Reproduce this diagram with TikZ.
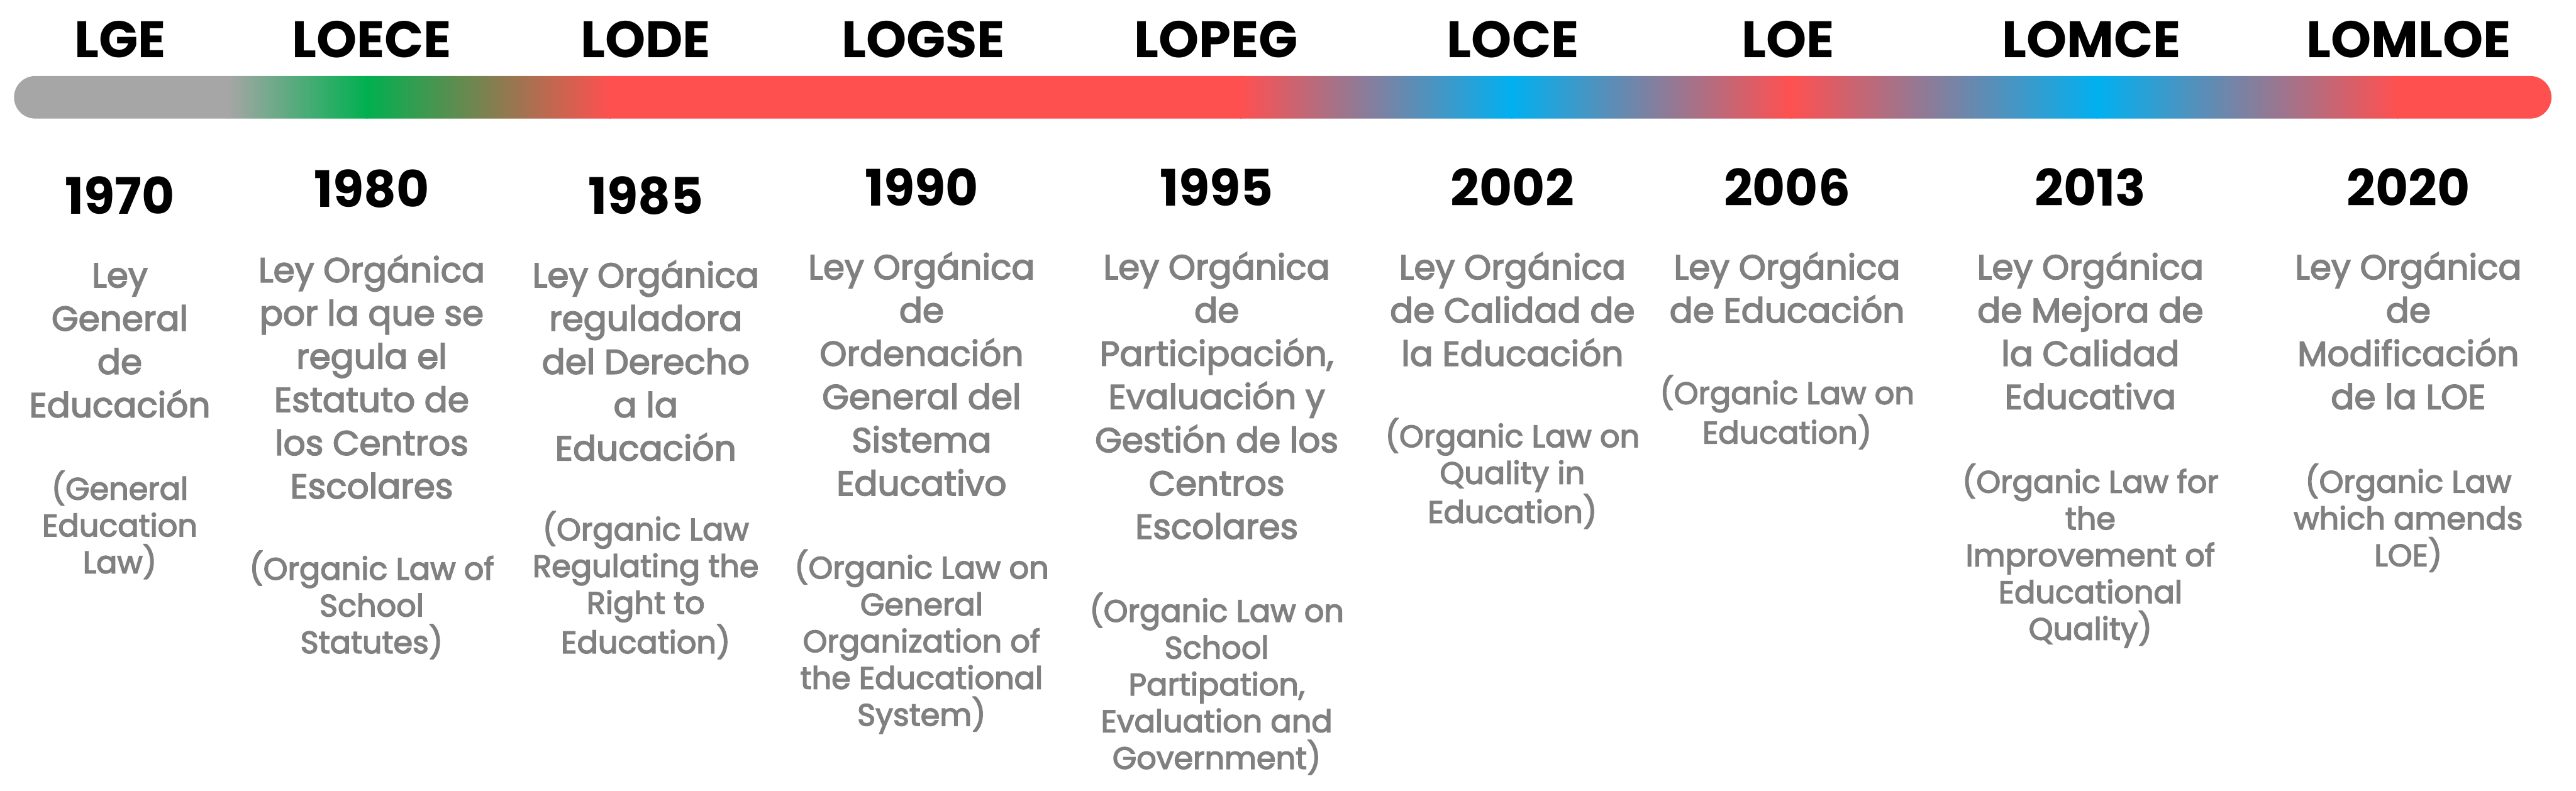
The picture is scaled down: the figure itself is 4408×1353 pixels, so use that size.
\documentclass[tikz,border=0pt]{standalone}
\usepackage{fontspec}
\setmainfont{Poppins}
\newfontfamily\descfont{Poppins}[FakeBold=3]
\definecolor{barg}{HTML}{A6A6A6}
\definecolor{barn}{HTML}{00B050}
\definecolor{barr}{HTML}{FF5050}
\definecolor{barb}{HTML}{00B0F0}
\definecolor{txtgray}{HTML}{808080}
\begin{document}
\begin{tikzpicture}[x=0.01cm,y=-0.01cm,
  lawtitle/.style={font=\fontsize{25}{30}\selectfont\bfseries, anchor=base, inner sep=0},
  yearlbl/.style={font=\fontsize{24.5}{29}\selectfont\bfseries, anchor=base, inner sep=0},
  esdesc/.style={font=\descfont\fontsize{16.8}{21.05}\selectfont, text=txtgray, align=center, anchor=base, inner sep=0},
  endesc/.style={font=\descfont\fontsize{15.1}{17.9}\selectfont, text=txtgray, align=center, anchor=base, inner sep=0}]
\useasboundingbox (0,0) rectangle (4408,1353);
% gradient bar
\begin{scope}
\path[clip, rounded corners=0.365cm] (24,130) rectangle (4366,203);
\fill[barg] (0,100) rectangle (392,230);
\shade[left color=barg, right color=barn] (390,100) rectangle (629,230);
\shade[left color=barn, right color=barr] (627,100) rectangle (1045,230);
\fill[barr] (1043,100) rectangle (2124,230);
\shade[left color=barr, right color=barb] (2122,100) rectangle (2588,230);
\shade[left color=barb, right color=barr] (2586,100) rectangle (3065,230);
\shade[left color=barr, right color=barb] (3063,100) rectangle (3590,230);
\shade[left color=barb, right color=barr] (3588,100) rectangle (4104,230);
\fill[barr] (4102,100) rectangle (4408,230);
\end{scope}
% titles
\node[lawtitle] (t1) at (206,98) {LGE};
\node[lawtitle] (t2) at (636,98) {LOECE};
\node[lawtitle] (t3) at (1105,98) {LODE};
\node[lawtitle] (t4) at (1580,98) {LOGSE};
\node[lawtitle] (t5) at (2081,98) {LOPEG};
\node[lawtitle] (t6) at (2589,98) {LOCE};
\node[lawtitle] (t7) at (3060,98) {LOE};
\node[lawtitle] (t8) at (3579,98) {LOMCE};
\node[lawtitle] (t9) at (4122,98) {LOMLOE};
% years
\node[yearlbl] (y1) at (205,366) {1970};
\node[yearlbl] (y2) at (636,355) {1980};
\node[yearlbl] (y3) at (1105,366) {1985};
\node[yearlbl] (y4) at (1577,352) {1990};
\node[yearlbl] (y5) at (2082,352) {1995};
\node[yearlbl] (y6) at (2588,352) {2002};
\node[yearlbl] (y7) at (3058,352) {2006};
\node[yearlbl] (y8) at (3577,352) {2013};
\node[yearlbl] (y9) at (4121,352) {2020};
% Spanish names (anchored at the baseline of the last line)
\node[esdesc] (s1) at (205,714) {Ley\\General\\de\\Educación};
\node[esdesc] (s2) at (636,853) {Ley Orgánica\\por la que se\\regula el\\Estatuto de\\los Centros\\Escolares};
\node[esdesc] (s3) at (1105,788) {Ley Orgánica\\reguladora\\del Derecho\\a la\\Educación};
\node[esdesc] (s4) at (1577,848) {Ley Orgánica\\de\\Ordenación\\General del\\Sistema\\Educativo};
\node[esdesc] (s5) at (2082,922) {Ley Orgánica\\de\\Participación,\\Evaluación y\\Gestión de los\\Centros\\Escolares};
\node[esdesc] (s6) at (2588,626) {Ley Orgánica\\de Calidad de\\la Educación};
\node[esdesc] (s7) at (3058,552) {Ley Orgánica\\de Educación};
\node[esdesc] (s8) at (3577,700) {Ley Orgánica\\de Mejora de\\la Calidad\\Educativa};
\node[esdesc] (s9) at (4121,700) {Ley Orgánica\\de\\Modificación\\de la LOE};
% English names (anchored at the baseline of the last line)
\node[endesc] (e1) at (205,981) {(General\\Education\\Law)};
\node[endesc] (e2) at (636,1118) {(Organic Law of\\School\\Statutes)};
\node[endesc] (e3) at (1105,1118) {(Organic Law\\Regulating the\\Right to\\Education)};
\node[endesc] (e4) at (1577,1242) {(Organic Law on\\General\\Organization of\\the Educational\\System)};
\node[endesc] (e5) at (2082,1316) {(Organic Law on\\School\\Partipation,\\Evaluation and\\Government)};
\node[endesc] (e6) at (2588,895) {(Organic Law on\\Quality in\\Education)};
\node[endesc] (e7) at (3058,759) {(Organic Law on\\Education)};
\node[endesc] (e8) at (3577,1095) {(Organic Law for\\the\\Improvement of\\Educational\\Quality)};
\node[endesc] (e9) at (4121,969) {(Organic Law\\which amends\\LOE)};
\end{tikzpicture}
\end{document}
